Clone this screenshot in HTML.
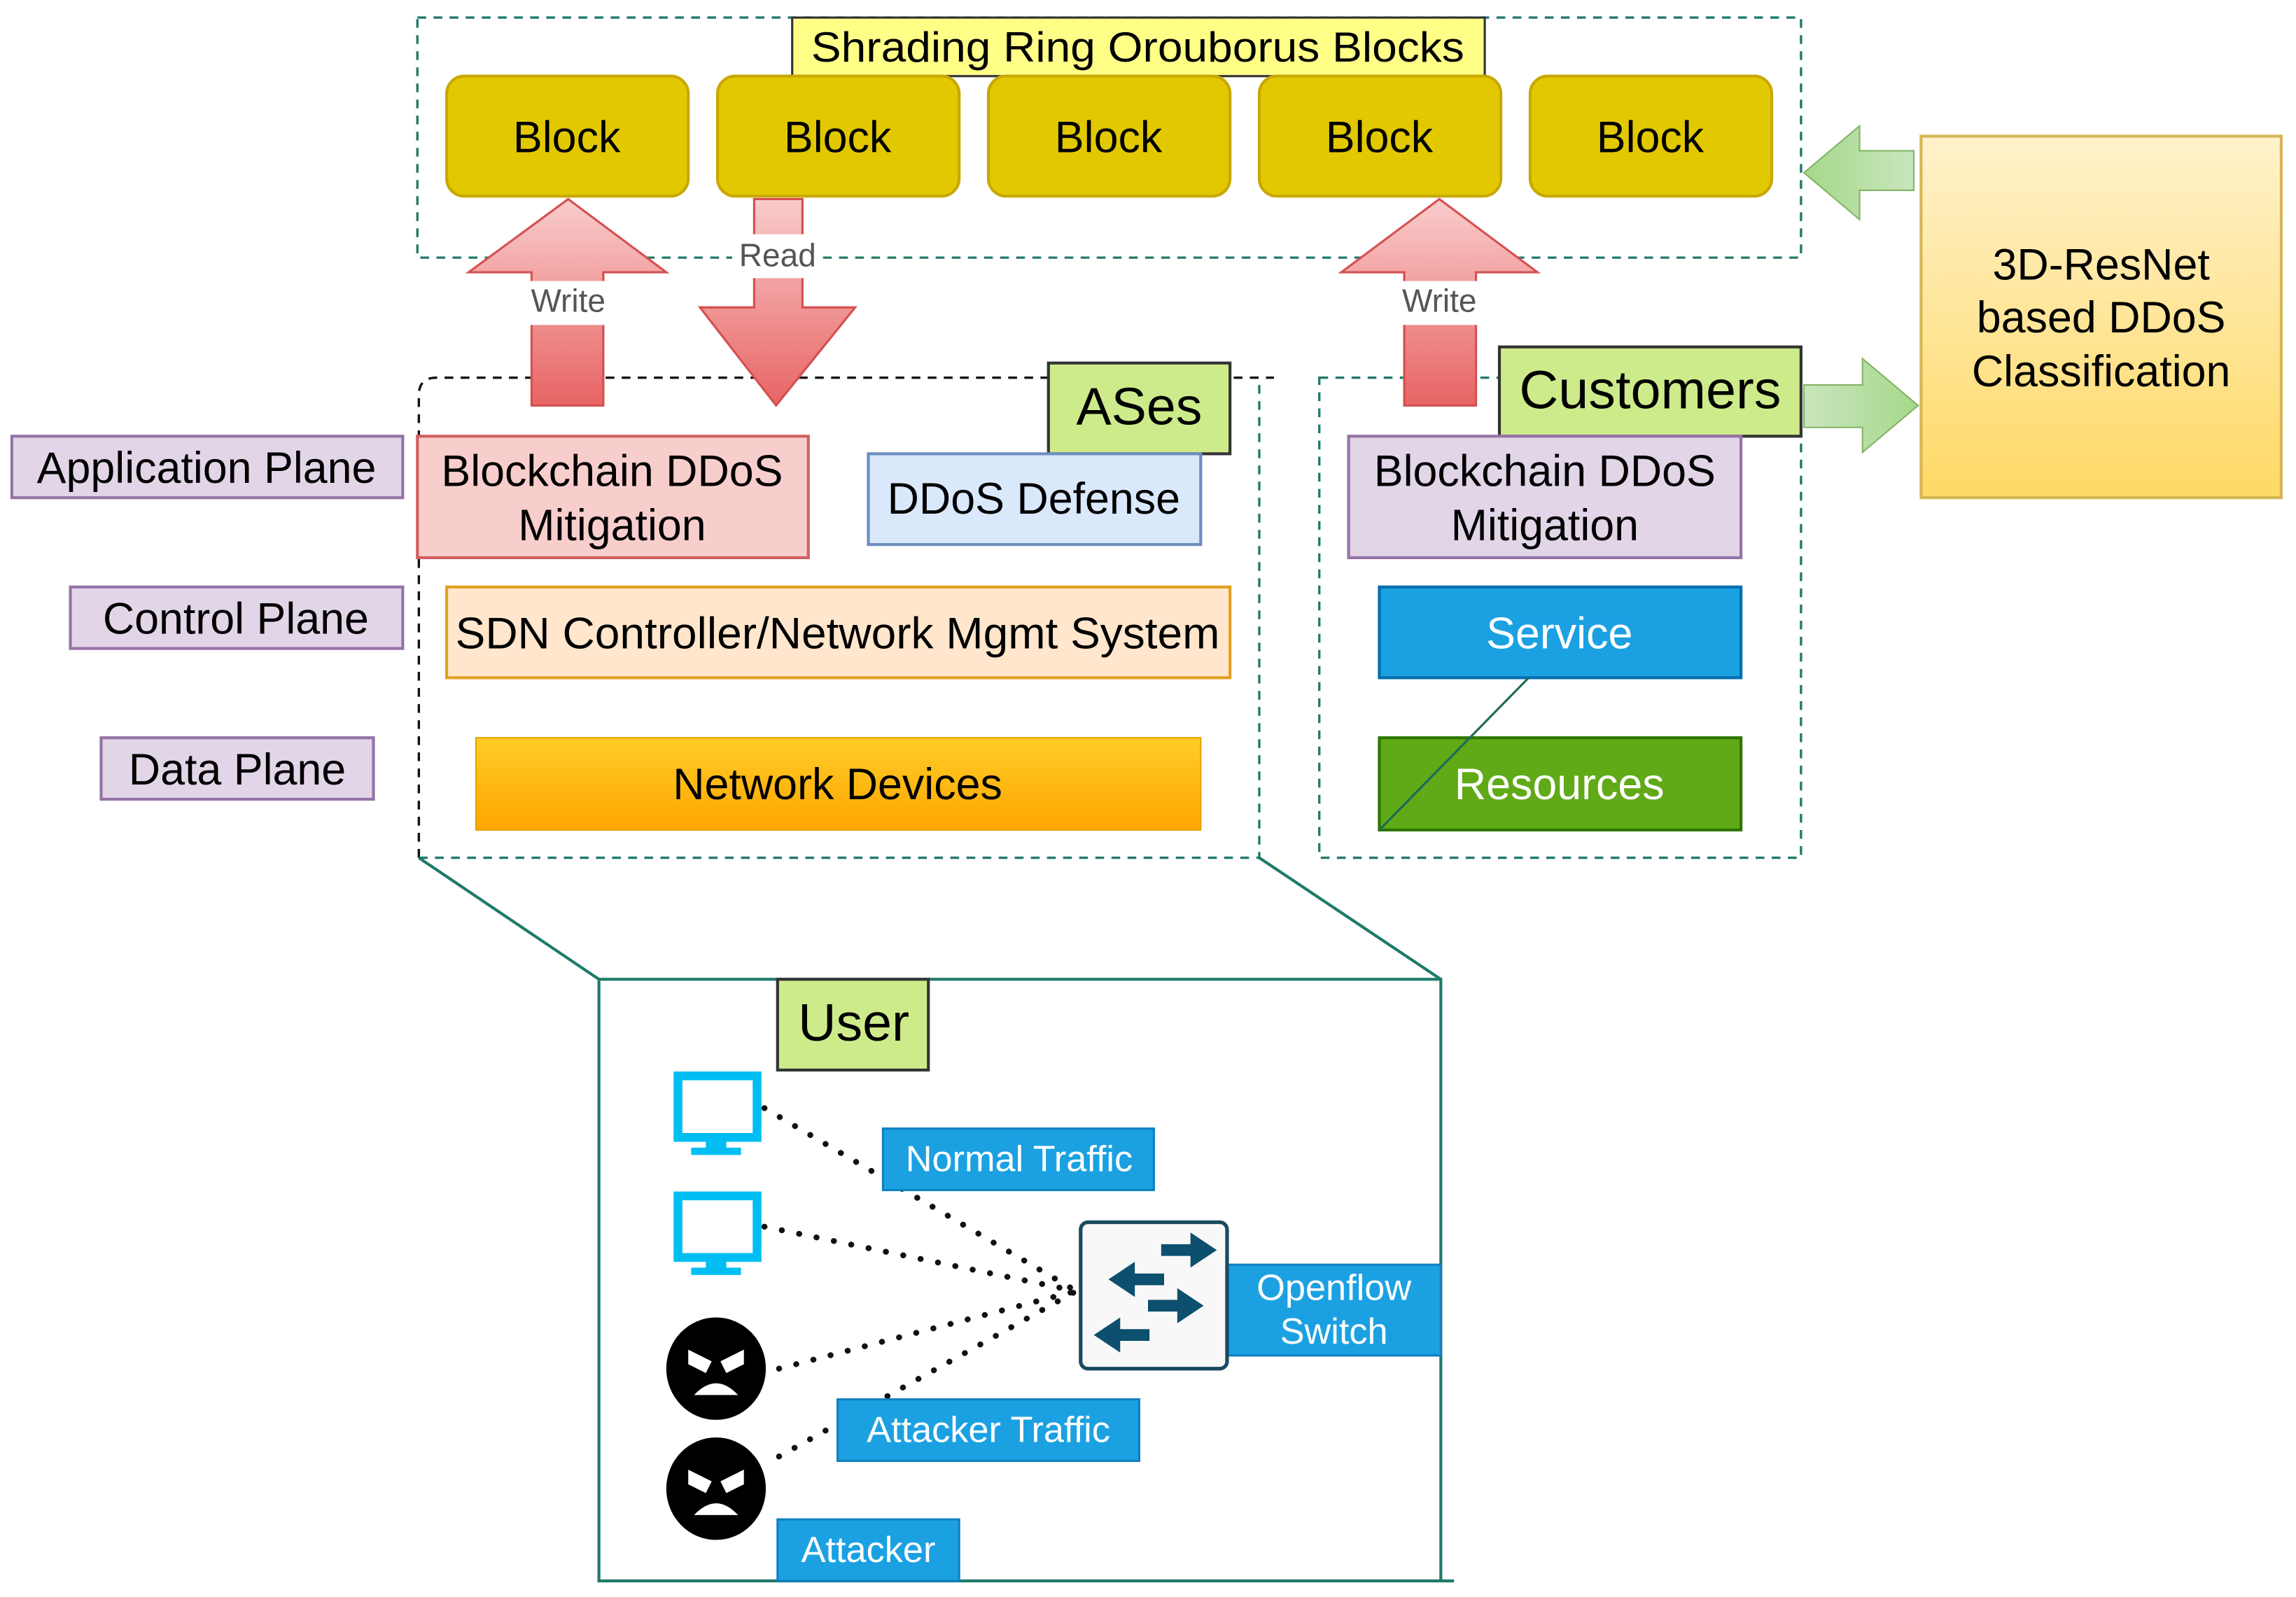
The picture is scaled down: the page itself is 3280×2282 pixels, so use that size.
<!DOCTYPE html>
<html><head><meta charset="utf-8"><style>html,body{margin:0;padding:0;background:#fff}svg{display:block}</style></head><body>
<svg width="3280" height="2282" viewBox="0 0 1568 1091" xmlns="http://www.w3.org/2000/svg" font-family="Liberation Sans, Arial, sans-serif">
<defs>
<linearGradient id="pk" x1="0" y1="0" x2="0" y2="1"><stop offset="0" stop-color="#f9cccc"/><stop offset="1" stop-color="#e86464"/></linearGradient>
<linearGradient id="nd" x1="0" y1="0" x2="0" y2="1"><stop offset="0" stop-color="#ffcd28"/><stop offset="1" stop-color="#ffa500"/></linearGradient>
<linearGradient id="yl" x1="0" y1="0" x2="0" y2="1"><stop offset="0" stop-color="#fff2cc"/><stop offset="1" stop-color="#ffd966"/></linearGradient>
<linearGradient id="gr" x1="0" y1="0" x2="1" y2="0"><stop offset="0" stop-color="#c9e6bd"/><stop offset="1" stop-color="#a5d88a"/></linearGradient>
<linearGradient id="gl" x1="1" y1="0" x2="0" y2="0"><stop offset="0" stop-color="#c9e6bd"/><stop offset="1" stop-color="#a5d88a"/></linearGradient>
</defs>
<rect x="285" y="12" width="945" height="164" fill="none" stroke="#1f7a6a" stroke-width="1.6" stroke-dasharray="6,5"/>
<rect x="541" y="12" width="473" height="40" fill="#ffff88" stroke="#333" stroke-width="1.5"/>
<text x="777" y="42" font-size="29" text-anchor="middle" textLength="446" lengthAdjust="spacingAndGlyphs">Shrading Ring Orouborus Blocks</text>
<g fill="#e2c800" stroke="#c8a800" stroke-width="2">
<rect x="305" y="52" width="165" height="82" rx="12"/><rect x="490" y="52" width="165" height="82" rx="12"/><rect x="675" y="52" width="165" height="82" rx="12"/><rect x="860" y="52" width="165" height="82" rx="12"/><rect x="1045" y="52" width="165" height="82" rx="12"/>
</g>
<g font-size="30" text-anchor="middle"><text x="387" y="104">Block</text><text x="572" y="104">Block</text><text x="757" y="104">Block</text><text x="942" y="104">Block</text><text x="1127" y="104">Block</text></g>
<path d="M286,586 L286,270 Q286,258 298,258 L870,258" fill="none" stroke="#111" stroke-width="1.6" stroke-dasharray="6,5"/>
<path d="M286,586 L860,586 L860,258" fill="none" stroke="#1f7a6a" stroke-width="1.6" stroke-dasharray="6,5"/>
<rect x="901" y="258" width="329" height="328" fill="none" stroke="#1f7a6a" stroke-width="1.6" stroke-dasharray="6,5"/>
<g fill="url(#pk)" stroke="#d45050" stroke-width="1.5">
<path d="M388,136 L455,186 L412,186 L412,277 L363,277 L363,186 L320,186 Z"/>
<path d="M515,136 L548,136 L548,210 L584,210 L530,277 L478,210 L515,210 Z"/>
<path d="M983,136 L1050,186 L1008,186 L1008,277 L959,277 L959,186 L916,186 Z"/>
</g>
<rect x="356" y="192" width="62" height="30" fill="#fff"/>
<text x="388" y="213" font-size="22" fill="#555" text-anchor="middle">Write</text>
<rect x="500" y="160" width="62" height="30" fill="#fff"/>
<text x="531" y="182" font-size="22" fill="#555" text-anchor="middle">Read</text>
<rect x="952" y="192" width="62" height="30" fill="#fff"/>
<text x="983" y="213" font-size="22" fill="#555" text-anchor="middle">Write</text>
<rect x="716" y="248" width="124" height="62" fill="#cdeb8b" stroke="#333" stroke-width="2"/>
<text x="778" y="290" font-size="36" text-anchor="middle">ASes</text>
<g fill="#e1d5e7" stroke="#9673a6" stroke-width="2">
<rect x="8" y="298" width="267" height="42"/><rect x="48" y="401" width="227" height="42"/><rect x="69" y="504" width="186" height="42"/>
</g>
<g font-size="30" text-anchor="middle"><text x="141" y="330">Application Plane</text><text x="161" y="433">Control Plane</text><text x="162" y="536">Data Plane</text></g>
<rect x="285" y="298" width="267" height="83" fill="#f8cecc" stroke="#d06060" stroke-width="2"/>
<text x="418" y="332" font-size="30" text-anchor="middle">Blockchain DDoS</text><text x="418" y="369" font-size="30" text-anchor="middle">Mitigation</text>
<rect x="593" y="310" width="227" height="62" fill="#dae8fc" stroke="#6c8ebf" stroke-width="2"/>
<text x="706" y="351" font-size="30" text-anchor="middle">DDoS Defense</text>
<rect x="305" y="401" width="535" height="62" fill="#ffe6cc" stroke="#e0a020" stroke-width="2"/>
<text x="572" y="443" font-size="30" text-anchor="middle" textLength="522" lengthAdjust="spacingAndGlyphs">SDN Controller/Network Mgmt System</text>
<rect x="325" y="504" width="495" height="63" fill="url(#nd)" stroke="#e8a000" stroke-width="1"/>
<text x="572" y="546" font-size="30" text-anchor="middle">Network Devices</text>
<rect x="1024" y="237" width="206" height="61" fill="#cdeb8b" stroke="#333" stroke-width="2"/>
<text x="1127" y="279" font-size="37" text-anchor="middle">Customers</text>
<rect x="921" y="298" width="268" height="83" fill="#e1d5e7" stroke="#9673a6" stroke-width="2"/>
<text x="1055" y="332" font-size="30" text-anchor="middle">Blockchain DDoS</text><text x="1055" y="369" font-size="30" text-anchor="middle">Mitigation</text>
<rect x="942" y="401" width="247" height="62" fill="#1ba1e2" stroke="#006eaf" stroke-width="2"/>
<text x="1065" y="443" font-size="30" fill="#fff" text-anchor="middle">Service</text>
<rect x="942" y="504" width="247" height="63" fill="#60a917" stroke="#2d7600" stroke-width="2"/>
<text x="1065" y="546" font-size="30" fill="#fff" text-anchor="middle">Resources</text>
<line x1="1044" y1="463" x2="942" y2="567" stroke="#1f6a5a" stroke-width="1.5"/>
<rect x="1312" y="93" width="246" height="247" fill="url(#yl)" stroke="#d6b656" stroke-width="2"/>
<g font-size="30" text-anchor="middle"><text x="1435" y="191">3D-ResNet</text><text x="1435" y="227">based DDoS</text><text x="1435" y="264">Classification</text></g>
<path d="M1232,118 L1270,86 L1270,103 L1307,103 L1307,130 L1270,130 L1270,150 Z" fill="url(#gl)" stroke="#82b366" stroke-width="1"/>
<path d="M1310,277 L1272,245 L1272,263 L1232,263 L1232,292 L1272,292 L1272,309 Z" fill="url(#gr)" stroke="#82b366" stroke-width="1"/>
<g stroke="#1f7a6a" stroke-width="2" fill="none">
<line x1="286" y1="586" x2="409" y2="669"/><line x1="860" y1="586" x2="984" y2="669"/>
<path d="M409,669 L984,669 L984,1080 M409,669 L409,1080 L993,1080"/>
</g>
<rect x="531" y="669" width="103" height="62" fill="#cdeb8b" stroke="#333" stroke-width="2"/>
<text x="583" y="711" font-size="36" text-anchor="middle">User</text>
<g stroke="#111" stroke-width="4" stroke-dasharray="0.1,12" stroke-linecap="round">
<line x1="522" y1="757" x2="735" y2="882"/><line x1="522" y1="838" x2="735" y2="882"/>
<line x1="532" y1="935" x2="735" y2="882"/><line x1="532" y1="995" x2="735" y2="882"/>
</g>
<g fill="#00bef2">
<path d="M460,732 h60 v48 h-60 Z M466,738 v36 h48 v-36 Z" fill-rule="evenodd"/><rect x="482" y="780" width="14" height="6"/><rect x="472" y="784" width="34" height="5"/>
<path d="M460,814 h60 v48 h-60 Z M466,820 v36 h48 v-36 Z" fill-rule="evenodd"/><rect x="482" y="862" width="14" height="6"/><rect x="472" y="866" width="34" height="5"/>
</g>
<g>
<ellipse cx="489" cy="935" rx="34" ry="35" fill="#000"/>
<path d="M470,922 l16,8 l-4,8 l-12,-6 Z M508,922 l-16,8 l4,8 l12,-6 Z M474,953 q15,-16 30,0 Z" fill="#fff"/>
<ellipse cx="489" cy="1017" rx="34" ry="35" fill="#000"/>
<path d="M470,1004 l16,8 l-4,8 l-12,-6 Z M508,1004 l-16,8 l4,8 l12,-6 Z M474,1035 q15,-16 30,0 Z" fill="#fff"/>
</g>
<g fill="#1ba1e2" stroke="#0e80c0" stroke-width="1.5">
<rect x="603" y="771" width="185" height="42"/><rect x="838" y="864" width="146" height="62"/><rect x="572" y="956" width="206" height="42"/><rect x="531" y="1038" width="124" height="42"/>
</g>
<g fill="#fff" font-size="25" text-anchor="middle">
<text x="696" y="800">Normal Traffic</text><text x="911" y="888">Openflow</text><text x="911" y="918">Switch</text><text x="675" y="985">Attacker Traffic</text><text x="593" y="1067">Attacker</text>
</g>
<rect x="738" y="835" width="100" height="100" rx="5" fill="#f8f8f8" stroke="#1a4a60" stroke-width="2.5"/>
<g fill="#0d4f6e">
<path d="M793,850 h20 v-8 l18,12 l-18,12 v-8 h-20 Z"/>
<path d="M795,870 h-20 v-8 l-18,12 l18,12 v-8 h20 Z"/>
<path d="M784,888 h20 v-8 l18,12 l-18,12 v-8 h-20 Z"/>
<path d="M785,908 h-20 v-8 l-18,12 l18,12 v-8 h20 Z"/>
</g>
</svg>
</body></html>
